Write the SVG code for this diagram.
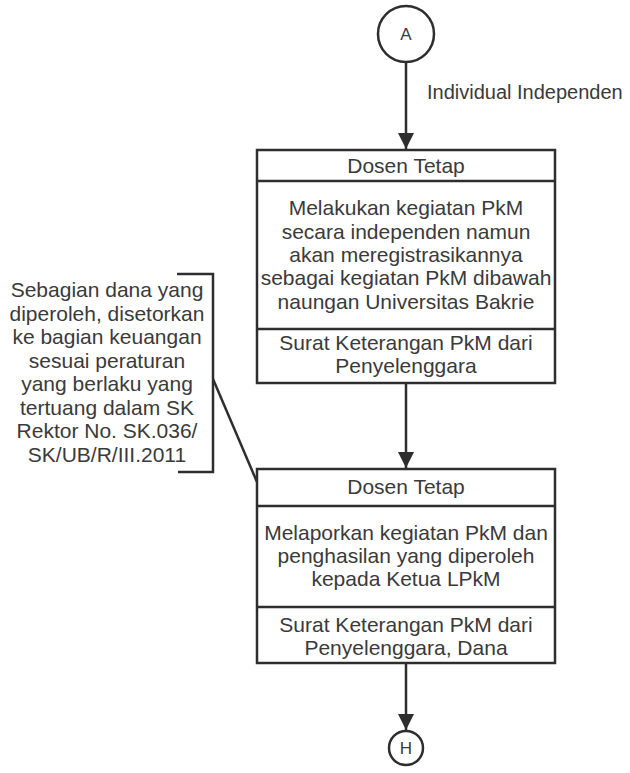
<svg xmlns="http://www.w3.org/2000/svg" width="630" height="773" viewBox="0 0 630 773">
<style>
.ln{fill:none;stroke:#2e2e2e;stroke-width:2.5}
.bx{fill:#ffffff;stroke:#2e2e2e;stroke-width:2.5}
text{font-family:"Liberation Sans",Arial,sans-serif;fill:#3a3a3a}
.c{text-anchor:middle;font-size:21px}
.s{text-anchor:middle;font-size:21px}
</style>
<defs>
<marker id="ah" viewBox="0 0 16 20" markerWidth="16" markerHeight="20" refX="16" refY="10" orient="auto" markerUnits="userSpaceOnUse">
<path d="M0,2 L16,10 L0,18 Z" fill="#2e2e2e"/>
</marker>
</defs>
<rect width="630" height="773" fill="#ffffff"/>
<g id="connectors">
<line class="ln" x1="406" y1="62" x2="406" y2="149" marker-end="url(#ah)"/>
<line class="ln" x1="406" y1="383" x2="406" y2="468" marker-end="url(#ah)"/>
<line class="ln" x1="406" y1="663" x2="406" y2="730" marker-end="url(#ah)"/>
<path class="ln" d="M177,274 H213 V472 H178"/>
<line class="ln" x1="213" y1="379" x2="257" y2="482"/>
<text x="427" y="99" style="font-size:20px">Individual Independen</text>
</g>
<g id="nodeA">
<circle class="bx" cx="406" cy="34" r="28"/>
<text x="406" y="40" style="text-anchor:middle;font-size:17px">A</text>
</g>
<g id="box1">
<rect class="bx" x="257" y="150" width="298" height="233"/>
<line class="ln" x1="257" y1="181" x2="555" y2="181"/>
<line class="ln" x1="257" y1="329" x2="555" y2="329"/>
<text class="c" x="406" y="173">Dosen Tetap</text>
<text class="c" x="406" y="215">Melakukan kegiatan PkM</text>
<text class="c" x="406" y="238.5">secara independen namun</text>
<text class="c" x="406" y="262">akan meregistrasikannya</text>
<text class="c" x="406" y="285">sebagai kegiatan PkM dibawah</text>
<text class="c" x="406" y="308.5">naungan Universitas Bakrie</text>
<text class="c" x="406" y="350">Surat Keterangan PkM dari</text>
<text class="c" x="406" y="373">Penyelenggara</text>
</g>
<g id="note">
<text class="s" x="107" y="297">Sebagian dana yang</text>
<text class="s" x="107" y="320.5">diperoleh, disetorkan</text>
<text class="s" x="107" y="344">ke bagian keuangan</text>
<text class="s" x="107" y="367.5">sesuai peraturan</text>
<text class="s" x="107" y="391">yang berlaku yang</text>
<text class="s" x="107" y="414.5">tertuang dalam SK</text>
<text class="s" x="107" y="438">Rektor No. SK.036/</text>
<text class="s" x="107" y="461.5">SK/UB/R/III.2011</text>
</g>
<g id="box2">
<rect class="bx" x="257" y="469" width="298" height="194"/>
<line class="ln" x1="257" y1="506" x2="555" y2="506"/>
<line class="ln" x1="257" y1="607" x2="555" y2="607"/>
<text class="c" x="406" y="494">Dosen Tetap</text>
<text class="c" x="406" y="540">Melaporkan kegiatan PkM dan</text>
<text class="c" x="406" y="563">penghasilan yang diperoleh</text>
<text class="c" x="406" y="586">kepada Ketua LPkM</text>
<text class="c" x="406" y="632">Surat Keterangan PkM dari</text>
<text class="c" x="406" y="655">Penyelenggara, Dana</text>
</g>
<g id="nodeH">
<circle class="bx" cx="406" cy="748" r="17"/>
<text x="406" y="754" style="text-anchor:middle;font-size:17px">H</text>
</g>
</svg>
